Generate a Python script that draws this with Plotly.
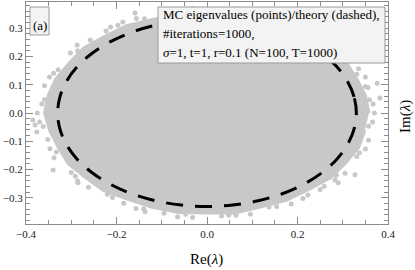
import plotly.graph_objects as go

# ---- data ----
# theory ellipse (dashed), Re / Im
theory_re = [0.330, 0.325, 0.310, 0.286, 0.253, 0.212, 0.165, 0.113, 0.057, 0.000,
             -0.057, -0.113, -0.165, -0.212, -0.253, -0.286, -0.310, -0.325, -0.330,
             -0.325, -0.310, -0.286, -0.253, -0.212, -0.165, -0.113, -0.057, 0.000,
             0.057, 0.113, 0.165, 0.212, 0.253, 0.286, 0.310, 0.325, 0.330]
theory_im = [0.000, 0.057, 0.113, 0.165, 0.212, 0.253, 0.286, 0.310, 0.325, 0.330,
             0.325, 0.310, 0.286, 0.253, 0.212, 0.165, 0.113, 0.057, 0.000,
             -0.057, -0.113, -0.165, -0.212, -0.253, -0.286, -0.310, -0.325, -0.330,
             -0.325, -0.310, -0.286, -0.253, -0.212, -0.165, -0.113, -0.057, 0.000]

# dense body of the Monte-Carlo eigenvalue cloud (outline)
cloud_re = [0.358, 0.350, 0.331, 0.308, 0.268, 0.228, 0.179, 0.120, 0.062, 0.000,
            -0.061, -0.120, -0.178, -0.227, -0.273, -0.305, -0.334, -0.351, -0.359,
            -0.348, -0.329, -0.307, -0.270, -0.229, -0.176, -0.121, -0.062, 0.000,
            0.062, 0.120, 0.178, 0.226, 0.273, 0.306, 0.335, 0.349]
cloud_im = [0.000, 0.062, 0.120, 0.178, 0.225, 0.271, 0.309, 0.331, 0.350, 0.358,
            0.349, 0.330, 0.308, 0.270, 0.229, 0.176, 0.121, 0.062, 0.000,
            -0.061, -0.120, -0.178, -0.226, -0.273, -0.304, -0.333, -0.351, -0.353,
            -0.353, -0.331, -0.307, -0.269, -0.229, -0.177, -0.122, -0.061]

# scattered eigenvalues at the fuzzy rim of the cloud
rim_re = [0.367, 0.350, 0.335, 0.298, 0.260, 0.207, 0.156, 0.094, 0.032, -0.032,
          -0.094, -0.156, -0.213, -0.258, -0.302, -0.329, -0.359, -0.365, -0.370,
          -0.352, -0.338, -0.300, -0.262, -0.209, -0.157, -0.095, -0.032, 0.032,
          0.096, 0.154, 0.212, 0.259, 0.305, 0.331, 0.357, 0.366,
          0.370, 0.350, 0.281, 0.185, 0.065, -0.064, -0.186, -0.287, -0.348, -0.375,
          -0.347, -0.286, -0.184, -0.065, 0.064, 0.186, 0.283, 0.350,
          -0.340, -0.285, 0.327, 0.290, 0.376, 0.382, 0.356, -0.159, -0.197,
          -0.385, -0.380, -0.376, -0.137, 0.250,
          0.359, 0.331, 0.290, 0.219, 0.139, 0.047, -0.048, -0.138, -0.223, -0.286,
          -0.339, -0.359, -0.362, -0.333, -0.291, -0.220, -0.140, -0.047,
          0.048, 0.137, 0.223, 0.286, 0.337, 0.357]
rim_im = [0.032, 0.094, 0.156, 0.209, 0.260, 0.296, 0.334, 0.351, 0.365, 0.369,
          0.350, 0.334, 0.304, 0.258, 0.212, 0.153, 0.096, 0.032, -0.032,
          -0.094, -0.158, -0.210, -0.262, -0.298, -0.337, -0.354, -0.369, -0.364,
          -0.358, -0.330, -0.302, -0.259, -0.213, -0.154, -0.096, -0.032,
          0.000, 0.127, 0.235, 0.320, 0.367, 0.362, 0.321, 0.240, 0.127, 0.000,
          -0.126, -0.240, -0.319, -0.366, -0.361, -0.321, -0.237, -0.127,
          -0.201, -0.246, -0.218, -0.246, 0.105, 0.053, 0.090, 0.353, 0.310,
          -0.025, -0.042, -0.067, -0.349, -0.270,
          0.047, 0.137, 0.222, 0.286, 0.335, 0.356, 0.361, 0.333, 0.290, 0.220,
          0.140, 0.047, -0.048, -0.138, -0.223, -0.287, -0.338, -0.358,
          -0.361, -0.332, -0.290, -0.220, -0.140, -0.047]

x_ticks = [-0.4, -0.2, 0.0, 0.2, 0.4]
y_ticks = [-0.3, -0.2, -0.1, 0.0, 0.1, 0.2, 0.3]

legend_lines = ["MC eigenvalues (points)/theory (dashed),",
                "#iterations=1000,",
                "<i>σ</i>=1, t=1, r=0.1 (N=100, T=1000)"]

GRAY = "#c8c8c8"
FRAME = "#8c8c8c"
FONT = "Liberation Serif"

fig = go.Figure()
fig.add_trace(go.Scatter(x=cloud_re, y=cloud_im, mode="lines", fill="toself",
                         fillcolor=GRAY, line=dict(color=GRAY, width=3),
                         hoverinfo="skip", showlegend=False))
fig.add_trace(go.Scatter(x=rim_re, y=rim_im, mode="markers",
                         marker=dict(color=GRAY, size=5, line=dict(width=0)),
                         hoverinfo="skip", showlegend=False))
fig.add_trace(go.Scatter(x=theory_re, y=theory_im, mode="lines",
                         line=dict(color="black", width=3, dash="17px,12px", shape="spline"),
                         hoverinfo="skip", showlegend=False))

axis_common = dict(showgrid=False, zeroline=False, showline=True, linecolor=FRAME,
                   linewidth=1, mirror="allticks", ticks="inside", ticklen=7,
                   tickcolor=FRAME, tickwidth=1, automargin=False,
                   tickfont=dict(family=FONT, size=11, color="#222"))

fig.update_xaxes(range=[-0.4, 0.4], tickvals=x_ticks, tickformat=".1f",
                 minor=dict(dtick=0.05, tick0=0, ticks="inside", ticklen=4,
                            tickcolor=FRAME, tickwidth=1),
                 **axis_common)
fig.update_yaxes(range=[-0.392, 0.392], tickvals=y_ticks, tickformat=".1f",
                 minor=dict(dtick=0.02, tick0=0, ticks="inside", ticklen=4,
                            tickcolor=FRAME, tickwidth=1),
                 **axis_common)

W, H = 415, 270
L, R, T, B = 26, 27, 2, 46
pw, ph = W - L - R, H - T - B


def px(xp):
    return (xp - L) / pw


def py(yp):
    return (H - B - yp) / ph


shapes = [
    dict(type="rect", xref="paper", yref="paper", x0=px(158), x1=px(385),
         y0=py(63), y1=py(7), fillcolor="#f3f3f3", line=dict(color="#9a9a9a", width=1),
         layer="above"),
    dict(type="rect", xref="paper", yref="paper", x0=px(30), x1=px(49),
         y0=py(35), y1=py(7), fillcolor="#f3f3f3", line=dict(color="#9a9a9a", width=1),
         layer="above"),
]

annotations = []
for txt, yc in zip(legend_lines, [15, 33, 52]):
    annotations.append(dict(text=txt, xref="paper", yref="paper", x=px(161), y=py(yc),
                            xanchor="left", yanchor="middle", showarrow=False,
                            font=dict(family=FONT, size=13, color="black")))
annotations.append(dict(text="(a)", xref="paper", yref="paper", x=px(39.5), y=py(25),
                        xanchor="center", yanchor="middle", showarrow=False,
                        font=dict(family=FONT, size=13, color="black")))
annotations.append(dict(text="Re(<i>λ</i>)", xref="paper", yref="paper", x=px(206), y=py(259),
                        xanchor="center", yanchor="middle", showarrow=False,
                        font=dict(family=FONT, size=15, color="black")))
annotations.append(dict(text="Im(<i>λ</i>)", xref="paper", yref="paper", x=px(405), y=py(117),
                        xanchor="center", yanchor="middle", showarrow=False, textangle=-90,
                        font=dict(family=FONT, size=15, color="black")))

fig.update_layout(width=W, height=H, margin=dict(l=L, r=R, t=T, b=B),
                  paper_bgcolor="white", plot_bgcolor="white", hovermode=False,
                  shapes=shapes, annotations=annotations, showlegend=False)

fig.write_html("out.html", config={"displayModeBar": False},
               post_script="document.body.style.margin='0';")
